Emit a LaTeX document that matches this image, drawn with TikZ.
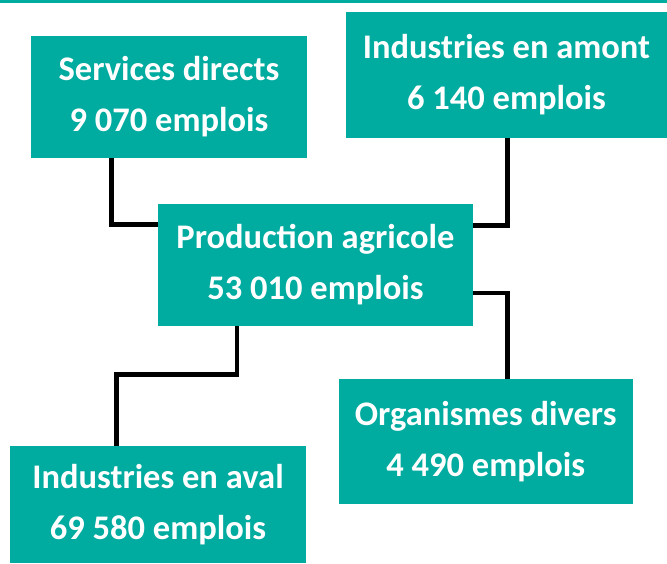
\documentclass[tikz,border=0pt]{standalone}
\usepackage{fontspec}
\setmainfont{Carlito}
\definecolor{boxteal}{RGB}{0,171,160}
\tikzset{
  box/.style={fill=boxteal, inner sep=0pt, align=center, text=white,
    font=\fontsize{34.5}{51}\selectfont\bfseries},
  link/.style={draw=black, line width=4.5pt, line join=miter}
}
\begin{document}
\begin{tikzpicture}[x=1pt,y=-1pt]
\useasboundingbox (0,0) rectangle (667,563);
\fill[boxteal] (0,0) rectangle (667,3.2);
% connectors
\coordinate (c1) at (111.5,224.5);
\coordinate (c2) at (507.5,225.5);
\coordinate (c3) at (507.5,293);
\coordinate (c4) at (237,374.5);
\coordinate (c5) at (116.3,374.5);
% boxes
\node[box, minimum width=276pt, minimum height=122pt] (sd) at (169,97) {Services directs\\9 070 emplois};
\node[box, minimum width=321pt, minimum height=125.5pt] (am) at (506.5,74.75) {Industries en amont\\6 140 emplois};
\node[box, minimum width=315pt, minimum height=122pt] (pa) at (315.5,265) {Production agricole\\53 010 emplois};
\node[box, minimum width=293.5pt, minimum height=125pt] (od) at (485.75,441.5) {Organismes divers\\4 490 emplois};
\node[box, minimum width=296pt, minimum height=117pt] (av) at (158,504.5) {Industries en aval\\69 580 emplois};
\draw[link] (sd.south -| c1) -- (c1) -- (pa.west |- c1);
\draw[link] (am.south -| c2) -- (c2) -- (pa.east |- c2);
\draw[link] (pa.east |- c3) -- (c3) -- (od.north -| c3);
\draw[link] (pa.south -| c4) -- (c4) -- (c5) -- (av.north -| c5);
\end{tikzpicture}
\end{document}
